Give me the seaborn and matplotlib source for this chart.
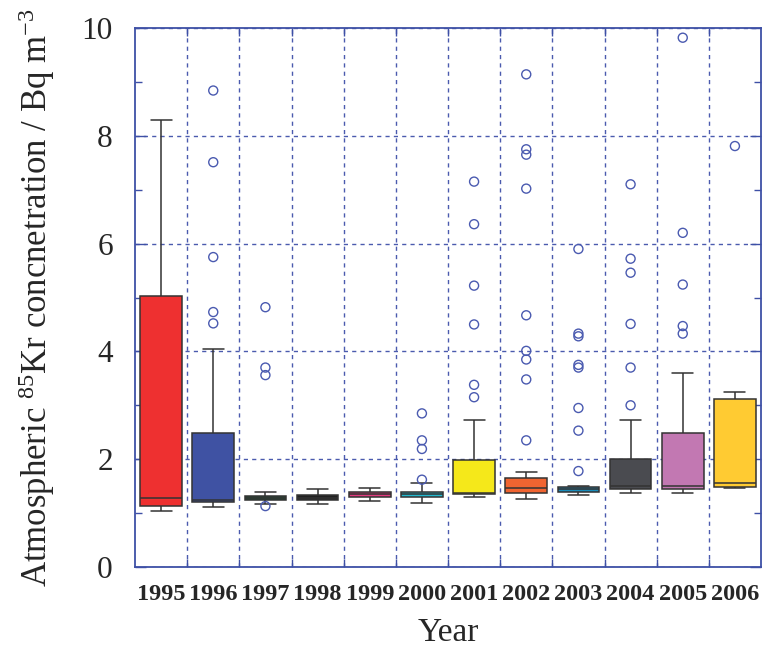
import numpy as np
import pandas as pd
import matplotlib
matplotlib.use("Agg")
import matplotlib.pyplot as plt
from matplotlib.ticker import MultipleLocator, FixedLocator
import seaborn as sns

# Annual 85Kr concentration summaries (Bq m^-3)
years = ["1995", "1996", "1997", "1998", "1999", "2000",
         "2001", "2002", "2003", "2004", "2005", "2006"]
whisker_low = [1.04, 1.11, 1.16, 1.16, 1.23, 1.19, 1.29, 1.26, 1.33, 1.38, 1.37, 1.46]
q1 = [1.13, 1.20, 1.24, 1.24, 1.30, 1.29, 1.35, 1.38, 1.40, 1.45, 1.44, 1.49]
median = [1.28, 1.25, 1.28, 1.28, 1.35, 1.35, 1.38, 1.46, 1.44, 1.51, 1.51, 1.55]
q3 = [5.03, 2.49, 1.31, 1.33, 1.39, 1.40, 1.99, 1.66, 1.49, 2.01, 2.49, 3.11]
whisker_high = [8.30, 4.05, 1.39, 1.44, 1.47, 1.55, 2.73, 1.77, 1.51, 2.72, 3.60, 3.25]

outliers = {
    "1996": [8.84, 7.51, 5.75, 4.73, 4.52],
    "1997": [4.82, 3.70, 3.56, 1.13],
    "2000": [2.85, 2.35, 2.19, 1.62],
    "2001": [7.15, 6.36, 5.22, 4.50, 3.38, 3.15],
    "2002": [9.14, 7.75, 7.65, 7.02, 4.67, 4.01, 3.85, 3.48, 2.35],
    "2003": [5.90, 4.33, 4.28, 3.75, 3.70, 2.95, 2.53, 1.78],
    "2004": [7.10, 5.72, 5.46, 4.51, 3.70, 3.00],
    "2005": [9.82, 6.20, 5.24, 4.47, 4.33],
    "2006": [7.81],
}

box_colors = ["#EE3030", "#3F52A3", "#1D4A32", "#222222", "#E23A80", "#22B8CE",
              "#F5E81A", "#F06431", "#1A8CBA", "#4A4B50", "#C278B2", "#FFCB32"]

frame_blue = "#3E50A6"
grid_blue = "#4B5BAE"

# Each year's box is drawn from its five-number summary (whiskers span min..max)
summary = pd.DataFrame({
    "year": np.repeat(years, 5),
    "value": np.ravel(np.column_stack([whisker_low, q1, median, q3, whisker_high])),
})
flier_df = pd.DataFrame(
    [(y, v) for y, vals in outliers.items() for v in vals], columns=["year", "value"]
)

sns.set_theme(style="white")
plt.rcParams["font.family"] = ["Liberation Serif", "DejaVu Serif"]
plt.rcParams["mathtext.fontset"] = "custom"
plt.rcParams["mathtext.rm"] = "Liberation Serif"
plt.rcParams["mathtext.it"] = "Liberation Serif:italic"

fig = plt.figure(figsize=(7.63, 6.49), dpi=100)
ax = fig.add_axes([135 / 763, 82 / 649, 626 / 763, 539 / 649])

sns.boxplot(
    data=summary, x="year", y="value", order=years, hue="year", hue_order=years,
    palette=box_colors, legend=False, whis=(0, 100), width=0.8,
    linecolor="#333333", linewidth=1.1, saturation=1, ax=ax,
)
sns.stripplot(
    data=flier_df, x="year", y="value", order=years, jitter=False,
    marker="o", size=6.5, facecolor="none", edgecolor="#4A5AB0",
    linewidth=1.0, color="#4A5AB0", ax=ax,
)

ax.set_xlim(-0.5, len(years) - 0.5)
ax.set_ylim(0, 10)

# Frame, ticks and dashed grid
for sp in ax.spines.values():
    sp.set_color(frame_blue)
    sp.set_linewidth(1.3)

ax.yaxis.set_major_locator(MultipleLocator(2))
ax.yaxis.set_minor_locator(MultipleLocator(1))
ax.xaxis.set_minor_locator(FixedLocator(np.arange(0.5, len(years) - 0.5, 1)))
ax.tick_params(axis="y", which="both", direction="in", left=True, right=True,
               color=frame_blue, width=1.0, labelsize=22.5, pad=16)
ax.tick_params(axis="y", which="major", length=8)
ax.tick_params(axis="y", which="minor", length=5)
ax.tick_params(axis="x", which="major", length=0, labelsize=17.5, pad=12)
ax.tick_params(axis="x", which="minor", direction="in", top=True, bottom=True,
               length=6, color=frame_blue, width=1.0)
for lab in ax.get_xticklabels():
    lab.set_fontweight("bold")

ax.grid(False)
ax.yaxis.grid(True, which="major", linestyle=(0, (3, 3)), color=grid_blue, linewidth=1.0)
ax.xaxis.grid(True, which="minor", linestyle=(0, (3, 3)), color=grid_blue, linewidth=1.0)
ax.set_axisbelow(True)

ax.set_xlabel("Year", fontsize=24, labelpad=9)
ax.set_ylabel(r"Atmospheric $^{85}$Kr concnetration / Bq m$^{-3}$", fontsize=25, labelpad=18)

fig.savefig("out.png", dpi=100)
